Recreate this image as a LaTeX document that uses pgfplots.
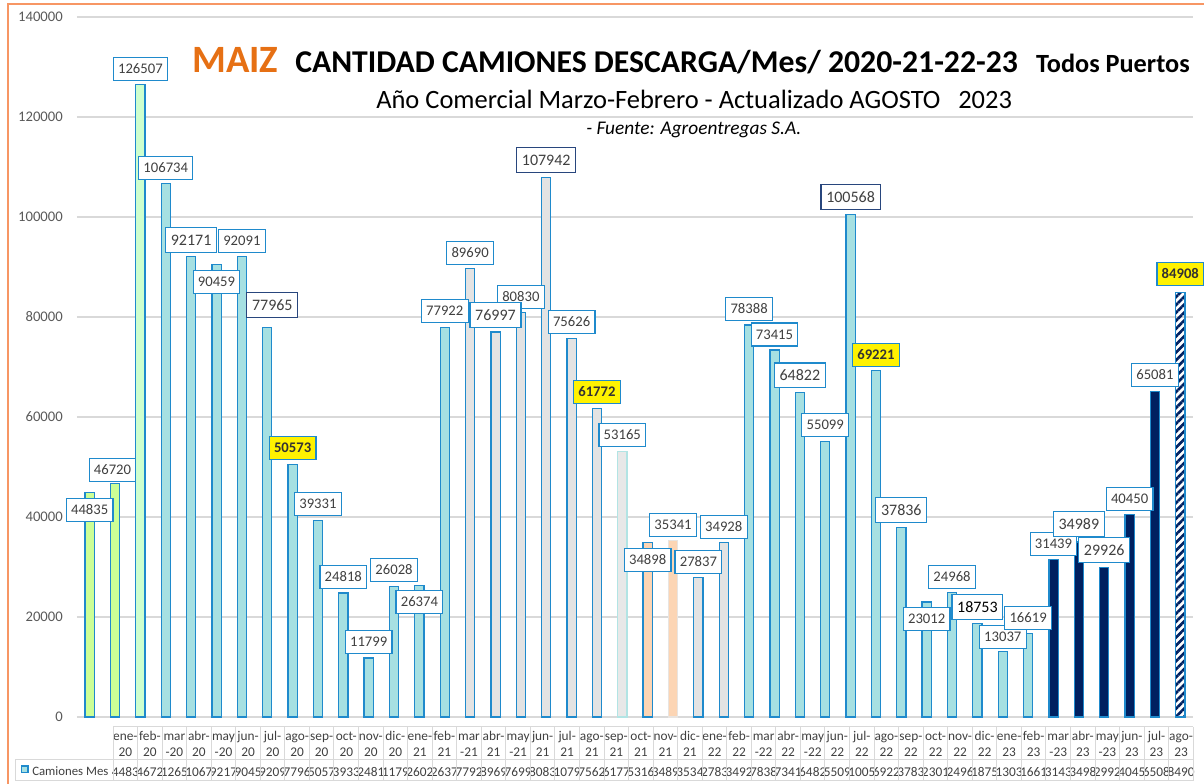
\documentclass[border=0pt]{standalone}
\usepackage{fontspec}
\setmainfont{Carlito}
\usepackage{pgfplots}
\pgfplotsset{compat=1.18}
\usetikzlibrary{patterns.meta}

\definecolor{bord}{RGB}{31,138,204}
\definecolor{cyanf}{RGB}{166,224,226}
\definecolor{limef}{RGB}{204,255,150}
\definecolor{lgreenf}{RGB}{206,255,206}
\definecolor{grayf}{RGB}{227,227,227}
\definecolor{lightf}{RGB}{232,232,232}
\definecolor{lightb}{RGB}{178,228,228}
\definecolor{peachf}{RGB}{252,213,180}
\definecolor{peachb}{RGB}{232,228,224}
\definecolor{navyf}{RGB}{0,32,96}
\definecolor{navyb}{RGB}{40,70,125}
\definecolor{txt}{RGB}{64,64,64}
\definecolor{tick}{RGB}{89,89,89}
\definecolor{gridc}{RGB}{217,217,217}
\definecolor{orangeT}{RGB}{230,112,20}
\definecolor{frameC}{RGB}{247,150,100}

\newcommand\TL[3]{\strut#1\\\strut#2\\[2.5pt]\strut#3}

\pgfplotsset{
  lbl/.style={draw=none, mark=none, forget plot, nodes near coords,
    point meta=explicit symbolic,
    every node near coord/.append style={anchor=center, draw=bord, fill=white,
      line width=0.9pt, text=txt, font=\fontsize{11}{13}\selectfont,
      inner xsep=3.6pt, inner ysep=5pt, text height=7.2pt, text depth=0pt}},
  lblbig/.style={lbl, every node near coord/.append style={font=\fontsize{12}{14}\selectfont,
      inner xsep=3.9pt, inner ysep=5.4pt, text height=7.8pt}},
  bars/.style={ybar, bar width=6.9pt, bar shift=0pt, line width=0.9pt, draw=bord, forget plot},
}

\begin{document}
\begin{tikzpicture}
\useasboundingbox (0,0) rectangle (903pt,588pt);
\begin{axis}[
  at={(57.75pt,50.25pt)}, anchor=south west,
  scale only axis, width=837pt, height=525pt,
  xmin=-0.5, xmax=43.5, ymin=0, ymax=140000,
  clip=false,
  axis line style={draw=none},
  major tick length=0pt,
  ytick={0,20000,...,140000},
  scaled y ticks=false,
  ymajorgrids, grid style={gridc, line width=0.9pt},
  yticklabel style={font=\fontsize{11}{13}\selectfont, text=tick, anchor=east, inner sep=0pt, xshift=-10.5pt,
     /pgf/number format/fixed, /pgf/number format/precision=0, /pgf/number format/1000 sep={},
     /pgf/number format/assume math mode=true},
  xtick={1.404,2.372,...,43.2},
  xticklabels={\TL{ene-}{20}{4483},\TL{feb-}{20}{4672},\TL{mar}{-20}{1265},\TL{abr-}{20}{1067},
    \TL{may}{-20}{9217},\TL{jun-}{20}{9045},\TL{jul-}{20}{9209},\TL{ago-}{20}{7796},
    \TL{sep-}{20}{5057},\TL{oct-}{20}{3933},\TL{nov-}{20}{2481},\TL{dic-}{20}{1179},
    \TL{ene-}{21}{2602},\TL{feb-}{21}{2637},\TL{mar}{-21}{7792},\TL{abr-}{21}{8969},
    \TL{may}{-21}{7699},\TL{jun-}{21}{8083},\TL{jul-}{21}{1079},\TL{ago-}{21}{7562},
    \TL{sep-}{21}{6177},\TL{oct-}{21}{5316},\TL{nov-}{21}{3489},\TL{dic-}{21}{3534},
    \TL{ene-}{22}{2783},\TL{feb-}{22}{3492},\TL{mar}{-22}{7838},\TL{abr-}{22}{7341},
    \TL{may}{-22}{6482},\TL{jun-}{22}{5509},\TL{jul-}{22}{1005},\TL{ago-}{22}{6922},
    \TL{sep-}{22}{3783},\TL{oct-}{22}{2301},\TL{nov-}{22}{2496},\TL{dic-}{22}{1875},
    \TL{ene-}{23}{1303},\TL{feb-}{23}{1661},\TL{mar}{-23}{3143},\TL{abr-}{23}{3498},
    \TL{may}{-23}{2992},\TL{jun-}{23}{4045},\TL{jul-}{23}{6508},\TL{ago-}{23}{8490}},
  xticklabel style={font=\fontsize{10}{12}\selectfont, text=txt, align=center, anchor=north,
     inner sep=0pt, yshift=-9.4pt},
]
% bars
\addplot[bars, fill=limef] coordinates {(0,44835) (1,46720)};
\addplot[bars, fill=lgreenf] coordinates {(2,126507)};
\addplot[bars, fill=cyanf] coordinates {(3,106734) (4,92171) (5,90459) (6,92091) (7,77965)
  (8,50573) (9,39331) (10,24818) (11,11799) (12,26028) (13,26374) (14,77922)
  (26,78388) (27,73415) (28,64822) (29,55099) (30,100568) (31,69221) (32,37836)
  (33,23012) (34,24968) (35,18753) (36,13037) (37,16619)};
\addplot[bars, fill=grayf] coordinates {(15,89690) (16,76997) (17,80830) (18,107942)
  (19,75626) (20,61772) (24,27837) (25,34928)};
\addplot[bars, fill=lightf, draw=lightb] coordinates {(21,53165)};
\addplot[bars, fill=peachf] coordinates {(22,34898)};
\addplot[bars, fill=peachf, draw=peachb] coordinates {(23,35341)};
\addplot[bars, fill=navyf] coordinates {(38,31439) (39,34989) (40,29926) (41,40450) (42,65081)};
\addplot[bars, fill=white, pattern={Lines[angle=45,distance=4.2pt,line width=2pt]}, pattern color=navyf]
  coordinates {(43,84908)};
% labels
\addplot[lbl] table[meta=t] {
x y t
0 41400 44835
0.9 49400 46720
2 129600 126507
3 109800 106734
5 87000 90459
6 95200 92091
9 42600 39331
10 28000 24818
11 15000 11799
12 29400 26028
13 23000 26374
14 81200 77922
15 92800 89690
17 84000 80830
19 79000 75626
21 56400 53165
22 31400 34898
23 38400 35341
24 31000 27837
25 38000 34928
26 81600 78388
27 76500 73415
29 58400 55099
33 19600 23012
34 28000 24968
36 16000 13037
37 19800 16619
38 34600 31439
41 43600 40450
42 68400 65081
};
\addplot[lblbig] table[meta=t] {
x y t
4 95400 92171
16 80400 76997
28 68300 64822
32 41400 37836
39 38600 34989
40 33400 29926
};
\addplot[lblbig, every node near coord/.append style={draw=navyb}] table[meta=t] {
x y t
7.2 82400 77965
18 111400 107942
30 104000 100568
};
\addplot[lbl, every node near coord/.append style={fill=yellow, text={rgb,255:red,51;green,51;blue,51}, font=\fontsize{11}{13}\selectfont\bfseries}] table[meta=t] {
x y t
8 53800 50573
20 65000 61772
31 72400 69221
43 88600 84908
};
\addplot[lblbig, every node near coord/.append style={text=black}] table[meta=t] {
x y t
35 22000 18753
};
\end{axis}
% titles
\node[anchor=base west, inner sep=0pt, text=orangeT, font=\fontsize{29}{31}\selectfont\bfseries] at (144pt,533.25pt) {MAIZ};
\node[anchor=base west, inner sep=0pt, font=\fontsize{23.8}{26}\selectfont\bfseries] at (221.25pt,533.25pt) {CANTIDAD CAMIONES DESCARGA/Mes/ 2020-21-22-23};
\node[anchor=base east, inner sep=0pt, font=\fontsize{19.7}{22}\selectfont\bfseries] at (892.5pt,533.25pt) {Todos Puertos};
\node[anchor=base west, inner sep=0pt, font=\fontsize{19.85}{22}\selectfont] at (282pt,506.25pt) {Año Comercial Marzo-Febrero - Actualizado AGOSTO\ \ \ 2023};
\node[anchor=base west, inner sep=0pt, font=\fontsize{14.5}{16}\selectfont\itshape] at (439.5pt,486.75pt) {- Fuente: Agroentregas S.A.};
% data table grid
\begin{scope}[gridc, line width=0.75pt]
\draw (84.75pt,42.75pt) -- (894.9pt,42.75pt);
\draw (11.25pt,18pt) -- (894.9pt,18pt);
\draw (11.25pt,2.25pt) -- (894.9pt,2.25pt);
\foreach \j in {0,...,44} \draw ({84.75pt+18.4125pt*\j},42.75pt) -- ++(0,-40.5pt);
\draw (11.25pt,18pt) -- (11.25pt,2.25pt);
\end{scope}
\draw[bord, fill=cyanf, line width=0.8pt] (16pt,8.5pt) rectangle (21pt,13.5pt);
\node[anchor=base west, inner sep=0pt, text=txt, font=\fontsize{9.6}{12}\selectfont] at (24pt,6pt) {Camiones Mes};
% frame
\draw[frameC, line width=1.5pt] (6pt,-5pt) rectangle (912pt,585pt);
\end{tikzpicture}
\end{document}
